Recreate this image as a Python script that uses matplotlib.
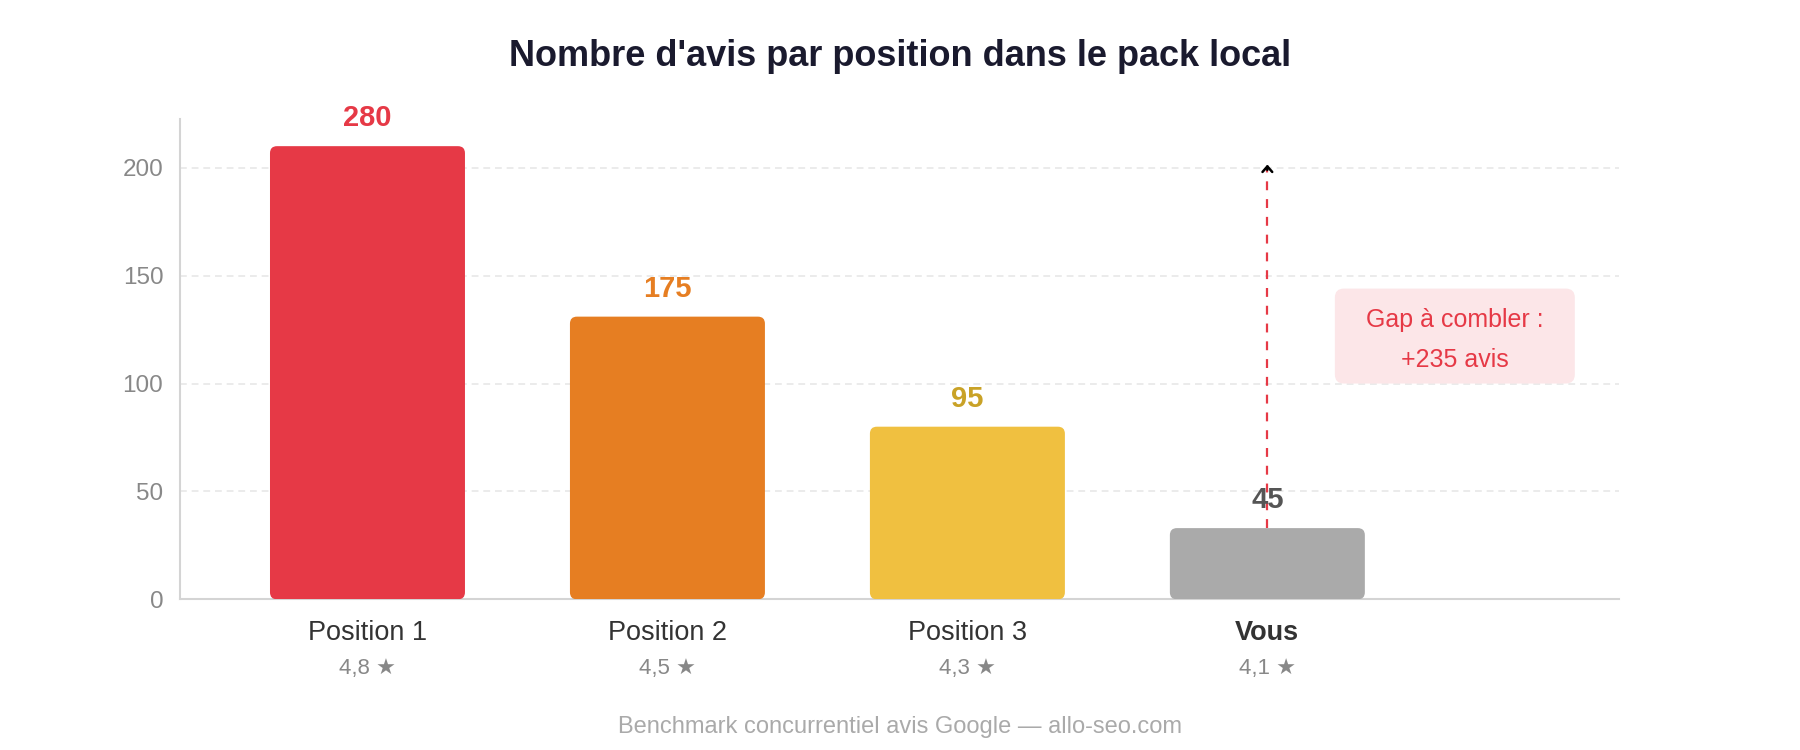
import matplotlib
matplotlib.use("Agg")
import matplotlib.pyplot as plt
from matplotlib.patches import FancyBboxPatch

plt.rcParams['font.family'] = ['Liberation Sans', 'DejaVu Sans']

# donnees
positions = ["Position 1", "Position 2", "Position 3", "Vous"]
hauteurs = [210, 131, 80, 33]          # hauteur des barres sur l'axe
etiquettes = ["280", "175", "95", "45"]  # valeurs affichees au-dessus
notes = ["4,8 ★", "4,5 ★", "4,3 ★", "4,1 ★"]
couleurs = ["#e63946", "#e67e22", "#f0c040", "#aaaaaa"]
couleurs_txt = ["#e63946", "#e67e22", "#c9a227", "#555555"]
yticks = [0, 50, 100, 150, 200]
gap_haut = 200
gap_texte = "Gap à combler :\n+235 avis"

fig = plt.figure(figsize=(18, 7.5), dpi=100)
ax = fig.add_axes([0.1, 0.2009, 0.7994, 0.6399])
ax.set_xlim(-0.625, 4.172)
ax.set_ylim(0, 222.4)

# aspect pour des coins arrondis ronds
fig.canvas.draw()
bb = ax.get_window_extent()
px_x = bb.width / (4.172 + 0.625)
px_y = bb.height / 222.4
aspect = px_x / px_y

bars = ax.bar(range(len(positions)), hauteurs, width=0.65, color=couleurs)
for b, c in zip(bars, couleurs):
    b.set_visible(False)
    r = 7 / px_x
    p = FancyBboxPatch((b.get_x() + r, b.get_y() + r * aspect),
                       b.get_width() - 2 * r, b.get_height() - 2 * r * aspect,
                       boxstyle=f"round,pad={r},rounding_size={r}",
                       mutation_aspect=aspect, fc=c, ec="none", zorder=3)
    ax.add_patch(p)

for i, (h, t, c) in enumerate(zip(hauteurs, etiquettes, couleurs_txt)):
    ax.annotate(t, (i, h), xytext=(0, 14.4), textcoords="offset points",
                ha="center", va="baseline", fontsize=21, fontweight="bold",
                color=c, zorder=5)

xt = ax.get_xaxis_transform()
for i, (nom, note) in enumerate(zip(positions, notes)):
    ax.text(i, -0.0692, nom, transform=xt, ha="center", va="center",
            fontsize=19.5, color="#333333",
            fontweight="bold" if nom == "Vous" else "normal")
    ax.text(i, -0.145, note, transform=xt, ha="center", va="center",
            fontsize=16, color="#888888")

# grille et axes
ax.set_yticks(yticks)
ax.set_yticklabels([str(v) for v in yticks])
ax.set_xticks([])
ax.tick_params(axis="y", length=0, pad=12, labelsize=17.5, labelcolor="#888888")
for v in yticks[1:]:
    ax.axhline(v, color="#ebebeb", lw=1.4, ls=(0, (3.5, 2.5)), zorder=1)
for s in ["top", "right"]:
    ax.spines[s].set_visible(False)
for s in ["left", "bottom"]:
    ax.spines[s].set_color("#d4d4d4")
    ax.spines[s].set_linewidth(1.5)

# fleche de l'ecart
i_vous = positions.index("Vous")
ax.plot([i_vous, i_vous], [hauteurs[i_vous], gap_haut], color="#e63946",
        lw=1.6, ls=(0, (4, 4)), zorder=4)
ax.annotate("", xy=(i_vous, gap_haut + 1.5), xytext=(i_vous, gap_haut - 1),
            arrowprops=dict(arrowstyle="->,head_length=0.4,head_width=0.35",
                            color="black", lw=1.8, shrinkA=0, shrinkB=0),
            zorder=5)

r = 0.03
boite = FancyBboxPatch((3.225 + r, 100 + r * aspect), 0.8 - 2 * r,
                       44 - 2 * r * aspect,
                       boxstyle=f"round,pad={r},rounding_size={r}",
                       mutation_aspect=aspect, fc="#fce6e8", ec="none", zorder=2)
ax.add_patch(boite)
ax.text(3.625, 120.2, gap_texte, ha="center", va="center", fontsize=18,
        color="#e63946", linespacing=1.8, zorder=3)

fig.text(0.5, 0.925, "Nombre d'avis par position dans le pack local",
         ha="center", va="center", fontsize=26, fontweight="bold", color="#1a1a2e")
fig.text(0.5, 0.0307, "Benchmark concurrentiel avis Google — allo-seo.com",
         ha="center", va="center", fontsize=17, color="#aaaaaa")

fig.savefig("out.png", dpi=100, facecolor="white")
